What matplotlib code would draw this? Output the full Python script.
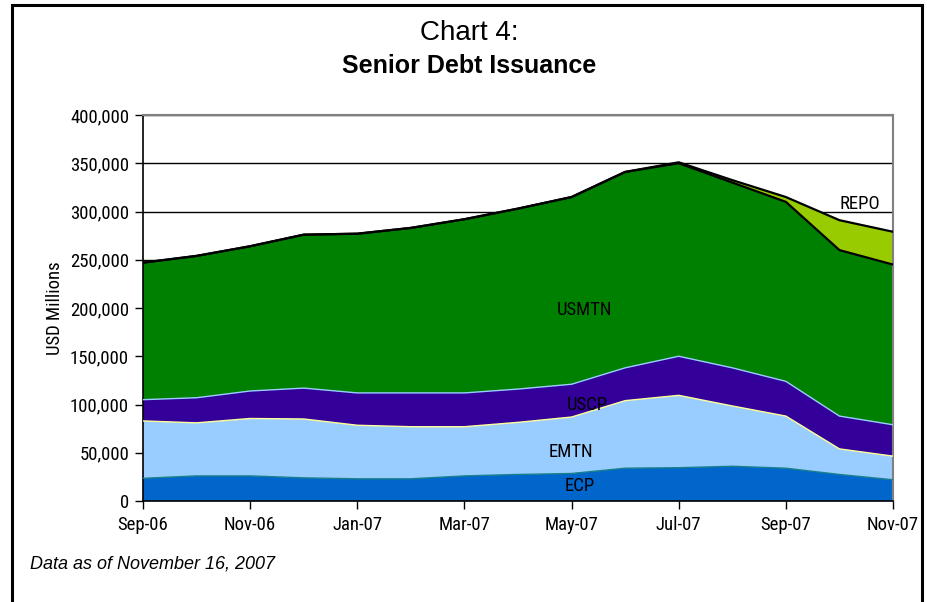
import numpy as np
from matplotlib import pyplot as plt
from matplotlib.patches import Rectangle
from matplotlib.ticker import FuncFormatter

# Данные (USD млн), Sep-06 ... Nov-07
months = ['Sep-06', 'Oct-06', 'Nov-06', 'Dec-06', 'Jan-07', 'Feb-07', 'Mar-07', 'Apr-07',
          'May-07', 'Jun-07', 'Jul-07', 'Aug-07', 'Sep-07', 'Oct-07', 'Nov-07']
ecp = [23500, 26000, 26000, 24000, 23000, 23000, 26000, 27500,
       28500, 34000, 34500, 36000, 34000, 27500, 22000]
emtn = [59500, 55000, 59500, 61000, 55500, 54000, 51000, 54000,
        58500, 70000, 75000, 62500, 54000, 26500, 24500]
uscp = [22000, 26000, 28500, 32000, 33500, 35000, 35000, 34500,
        34000, 34000, 40500, 39500, 36000, 34000, 32500]
usmtn = [142000, 147000, 150000, 159000, 165000, 171000, 180000, 187000,
         194000, 203000, 200000, 192000, 186000, 172000, 166000]
repo = [0, 0, 0, 0, 0, 0, 0, 0, 0, 0, 1000, 2500, 5000, 31000, 34000]

fill_colors = ['#0066CC', '#99CCFF', '#330099', '#008000', '#99CC00']
edge_colors = ['#1A7F8A', '#FFFF99', '#99CCFF', '#000000', '#000000']

narrow = ['Liberation Sans Narrow', 'DejaVu Sans Condensed', 'Roboto Condensed', 'Liberation Sans']


def main():
    fig = plt.figure(figsize=(9.27, 6.02), dpi=100)
    ax = fig.add_axes([143 / 927, 101 / 602, 750 / 927, 386 / 602])

    x = np.arange(len(months))
    data = [ecp, emtn, uscp, usmtn, repo]
    ax.stackplot(x, *data, colors=fill_colors, linewidth=0, zorder=2)
    # верхние границы каждой области
    tops = np.cumsum(np.array(data), axis=0)
    for top, ec in zip(tops, edge_colors):
        lw = 1.6 if ec == '#000000' else 1.0
        ax.plot(x, top, color=ec, linewidth=lw, zorder=3)

    fs = 13.5
    ax.set_xlim(0, len(months) - 1)
    ax.set_ylim(0, 400000)
    ax.set_xticks(x[::2])
    ax.set_xticklabels(months[::2], family=narrow, fontsize=fs)
    ax.set_yticks(np.arange(0, 400001, 50000))
    ax.yaxis.set_major_formatter(FuncFormatter(lambda v, p: f'{int(v):,}'))
    for lab in ax.get_yticklabels():
        lab.set_family(narrow)
        lab.set_fontsize(fs)
    ax.tick_params(direction='out', length=6, width=1, colors='black', pad=4)
    ax.tick_params(axis='x', pad=5)

    ax.grid(axis='y', color='black', linewidth=1)
    ax.set_axisbelow(True)
    for s in ['top', 'right']:
        ax.spines[s].set_color('#808080')
        ax.spines[s].set_linewidth(1.5)
    for s in ['left', 'bottom']:
        ax.spines[s].set_color('black')
        ax.spines[s].set_linewidth(1.2)

    ax.set_ylabel('USD Millions', family=narrow, fontsize=fs)
    ax.yaxis.set_label_coords(-(143 - 64) / 750, 0.5)

    # Подписи областей
    lbl = dict(family=narrow, fontsize=fs, ha='center', va='center', zorder=5)
    ax.text(8.25, 198000, 'USMTN', **lbl)
    ax.text(8.29, 99000, 'USCP', **lbl)
    ax.text(7.99, 51000, 'EMTN', **lbl)
    ax.text(8.16, 15500, 'ECP', **lbl)
    ax.text(13.38, 308000, 'REPO', **lbl)

    fig.text(469 / 927, 1 - 33 / 602, 'Chart 4:', fontsize=20, ha='center', va='center',
             family='Liberation Sans', fontweight='normal')
    fig.text(469 / 927, 1 - 66 / 602, 'Senior Debt Issuance', fontsize=18, ha='center', va='center',
             family='Liberation Sans', fontweight='bold')
    fig.text(30 / 927, 1 - 564 / 602, 'Data as of November 16, 2007', fontsize=13,
             ha='left', va='center', family='Liberation Sans', style='italic')

    fig.patches.append(Rectangle((12 / 927, -0.02), 910 / 927, 1 - 5 / 602 + 0.02,
                                 transform=fig.transFigure, fill=False,
                                 edgecolor='black', linewidth=2.2))

    fig.savefig('out.png', dpi=100)


if __name__ == '__main__':
    main()
